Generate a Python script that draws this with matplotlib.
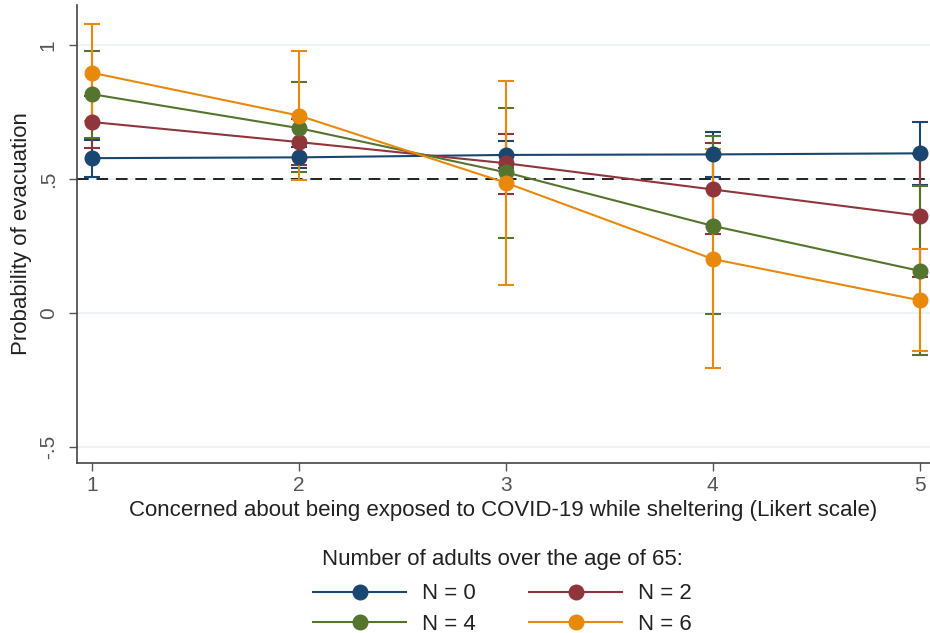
import matplotlib
matplotlib.use("Agg")
import matplotlib.pyplot as plt
import numpy as np

plt.rcParams['font.family'] = ['Liberation Sans', 'DejaVu Sans']

# Likert scale levels
x = [1, 2, 3, 4, 5]

# predicted probabilities and CI bounds per group
labels = ['N = 0', 'N = 2', 'N = 4', 'N = 6']
colors = ['#1a476f', '#90353b', '#55752f', '#e8890c']

mean_n0 = [0.578, 0.581, 0.590, 0.592, 0.596]
low_n0 = [0.509, 0.541, 0.540, 0.507, 0.478]
high_n0 = [0.647, 0.621, 0.641, 0.674, 0.714]

mean_n2 = [0.713, 0.638, 0.559, 0.461, 0.363]
low_n2 = [0.615, 0.552, 0.443, 0.294, 0.133]
high_n2 = [0.811, 0.724, 0.667, 0.633, 0.593]

mean_n4 = [0.817, 0.690, 0.525, 0.325, 0.157]
low_n4 = [0.654, 0.527, 0.279, -0.003, -0.157]
high_n4 = [0.979, 0.863, 0.764, 0.662, 0.474]

mean_n6 = [0.897, 0.737, 0.486, 0.201, 0.047]
low_n6 = [0.716, 0.496, 0.104, -0.206, -0.144]
high_n6 = [1.078, 0.979, 0.868, 0.614, 0.239]

means = [mean_n0, mean_n2, mean_n4, mean_n6]
lows = [low_n0, low_n2, low_n4, low_n6]
highs = [high_n0, high_n2, high_n4, high_n6]

yticks = [-0.5, 0, 0.5, 1]
ytick_labels = ['-.5', '0', '.5', '1']

fig = plt.figure(figsize=(9.3, 6.33), dpi=100)
ax = fig.add_axes([0.083, 0.269, 0.917, 0.723])

for y in yticks:
    ax.axhline(y, color='#eaf2f3', lw=1.2, zorder=0)
ax.axhline(0.5, color='#222222', lw=1.4, ls=(0, (6, 4)), zorder=1)

handles = []
for m, lo, hi, c, lab in zip(means, lows, highs, colors, labels):
    m = np.array(m)
    err = [m - np.array(lo), np.array(hi) - m]
    ax.errorbar(x, m, yerr=err, fmt='none', ecolor=c, elinewidth=1.5,
                capsize=6, capthick=1.5, zorder=2)
    h, = ax.plot(x, m, color=c, lw=1.5, marker='o', markersize=10.5, zorder=3, label=lab)
    handles.append(h)

ax.set_xlim(0.928, 5.05)
ax.set_ylim(-0.56, 1.15)
ax.set_xticks(x)
ax.set_yticks(yticks)
ax.set_yticklabels(ytick_labels, rotation=90, va='center')
ax.tick_params(axis='both', colors='#555555', labelcolor='#555555', labelsize=15,
               length=6, width=1, direction='out')
ax.tick_params(axis='y', pad=8)
for sp in ['top', 'right']:
    ax.spines[sp].set_visible(False)
for sp in ['left', 'bottom']:
    ax.spines[sp].set_color('#444444')
    ax.spines[sp].set_linewidth(1.2)

ax.set_xlabel('Concerned about being exposed to COVID-19 while sheltering (Likert scale)',
              fontsize=16, labelpad=4, color='#222222')
ax.set_ylabel('Probability of evacuation', fontsize=16, labelpad=5, color='#222222')

# row-wise legend order: N=0, N=2 / N=4, N=6
order = [0, 2, 1, 3]
leg = fig.legend(handles=[handles[i] for i in order], loc='upper center',
                 bbox_to_anchor=(0.54, 0.158), ncol=2, frameon=False, fontsize=16,
                 title='Number of adults over the age of 65:', title_fontsize=16,
                 handlelength=4.2, columnspacing=2.4, handletextpad=0.7,
                 labelspacing=0.42, borderpad=0.2)
leg._legend_box.sep = 10
for t in leg.get_texts():
    t.set_color('#222222')
leg.get_title().set_color('#222222')

fig.savefig('out.png', dpi=100)
